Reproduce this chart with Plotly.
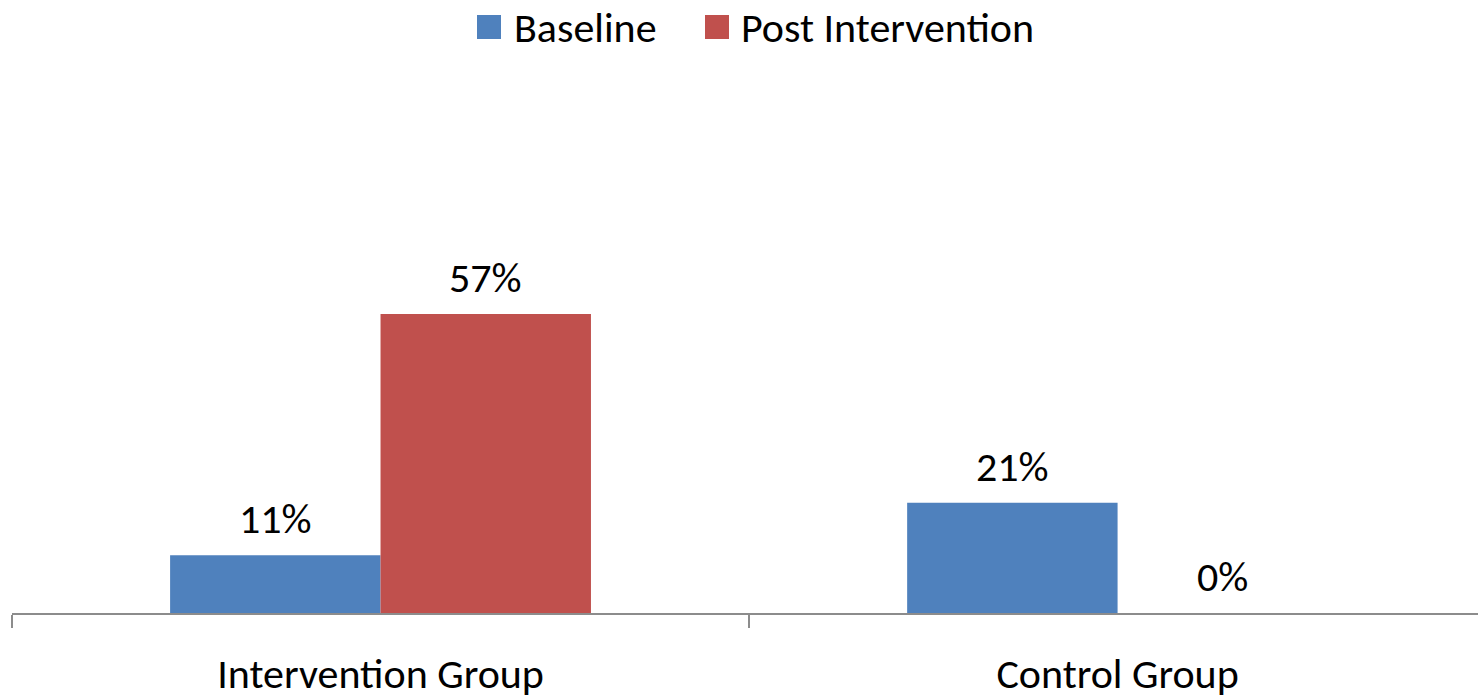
import plotly.graph_objects as go

categories = ["Intervention Group", "Control Group"]
baseline = [11, 21]
post_intervention = [57, 0]
series_names = ["Baseline", "Post Intervention"]
colors = ["#4F81BD", "#C0504D"]

FONT = "Carlito, Lato, sans-serif"
FSIZE = 42
BARGAP = 0.429
W, H = 1478, 700
M = dict(l=12, r=0, t=62, b=87)


def px_to_paper(px, py):
    """Convert a page pixel position to paper coordinates."""
    pw = W - M["l"] - M["r"]
    ph = H - M["t"] - M["b"]
    return (px - M["l"]) / pw, (H - M["b"] - py) / ph


fig = go.Figure()
for name, vals, col in zip(series_names, [baseline, post_intervention], colors):
    fig.add_trace(go.Bar(x=categories, y=vals, name=name, marker_color=col,
                         marker_line_width=0, showlegend=False))

# value labels above each bar
bar_w = (1 - BARGAP) / 2
for s, vals in enumerate([baseline, post_intervention]):
    off = (s - 0.5) * bar_w
    for i, v in enumerate(vals):
        fig.add_annotation(x=i + off, y=v, xref="x", yref="y", text=f"{v}%",
                           showarrow=False, yanchor="bottom", yshift=9,
                           font=dict(family=FONT, size=FSIZE, color="#000"))

# legend drawn as swatches + labels across the top
legend_items = [(477, 512), (705, 739)]
for (sx, tx), name, col in zip(legend_items, series_names, colors):
    x0, y0 = px_to_paper(sx, 39)
    x1, y1 = px_to_paper(sx + 24, 15)
    fig.add_shape(type="rect", xref="paper", yref="paper", x0=x0, x1=x1, y0=y0, y1=y1,
                  fillcolor=col, line_width=0)
    ax, ay = px_to_paper(tx, 27)
    fig.add_annotation(x=ax, y=ay, xref="paper", yref="paper", text=name,
                       showarrow=False, xanchor="left", yanchor="middle",
                       font=dict(family=FONT, size=FSIZE, color="#000"))

fig.update_layout(
    width=W, height=H,
    margin=M,
    paper_bgcolor="white", plot_bgcolor="white",
    barmode="group", bargap=BARGAP, bargroupgap=0,
    showlegend=False,
    font=dict(family=FONT, size=FSIZE, color="#000"),
    xaxis=dict(type="category", range=[-0.5, 1.489], showline=True, linecolor="#8c8c8c",
               linewidth=2, ticks="outside", tickson="boundaries", ticklen=13,
               tickwidth=2, tickcolor="#8c8c8c", showgrid=False, zeroline=False,
               automargin=False, ticklabelstandoff=23,
               tickfont=dict(family=FONT, size=FSIZE, color="#000")),
    yaxis=dict(range=[0, 105], visible=False, showgrid=False, zeroline=False,
               automargin=False),
)

fig.write_html("out.html")
